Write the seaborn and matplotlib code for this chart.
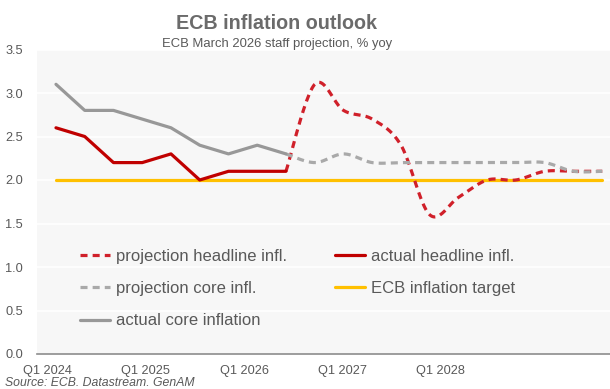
import numpy as np
import pandas as pd
import matplotlib
matplotlib.use("Agg")
import matplotlib.pyplot as plt
import seaborn as sns
from matplotlib.lines import Line2D

# ---------------- data ----------------
quarters = [f"Q{q} {y}" for y in range(2024, 2029) for q in range(1, 5)]
tick_labels = ["Q1 2024", "Q1 2025", "Q1 2026", "Q1 2027", "Q1 2028"]

actual_headline = [2.6, 2.5, 2.2, 2.2, 2.3, 2.0, 2.1, 2.1, 2.1]
actual_core = [3.1, 2.8, 2.8, 2.7, 2.6, 2.4, 2.3, 2.4, 2.3]
proj_start = 8
proj_headline = [2.1, 3.1, 2.8, 2.7, 2.4, 1.6, 1.8, 2.0, 2.0, 2.1, 2.1, 2.1]
proj_core = [2.3, 2.2, 2.3, 2.2, 2.2, 2.2, 2.2, 2.2, 2.2, 2.2, 2.1, 2.1]
target = [2.0] * len(quarters)

# ---------------- style ----------------
sns.set_theme(style="white")
plt.rcParams["font.family"] = ["Liberation Sans", "DejaVu Sans"]

C_RED = "#c00000"
C_RED_D = "#d0202a"
C_GRAY = "#989898"
C_GRAY_D = "#a9a9a9"
C_GOLD = "#ffc000"
C_TXT = "#595959"


def smooth(xs, ys, n=24):
    """Excel-style smoothed line (Bezier through every point)."""
    P = np.column_stack([xs, ys]).astype(float)
    m = len(P)
    out = [P[0]]
    t = np.linspace(0, 1, n)[1:]
    for i in range(m - 1):
        p0 = P[i - 1] if i > 0 else P[i]
        p1, p2 = P[i], P[i + 1]
        p3 = P[i + 2] if i + 2 < m else P[i + 1]
        c1 = p1 + (p2 - p0) / 6.0
        c2 = p2 - (p3 - p1) / 6.0
        for tt in t:
            b = ((1 - tt) ** 3) * p1 + 3 * ((1 - tt) ** 2) * tt * c1 \
                + 3 * (1 - tt) * tt ** 2 * c2 + tt ** 3 * p2
            out.append(b)
    out = np.array(out)
    return out[:, 0], out[:, 1]


fig = plt.figure(figsize=(6.10, 3.89), dpi=100)
fig.patch.set_facecolor("white")
ax = fig.add_axes([37 / 610, 35 / 389, 573 / 610, (354 - 49.5) / 389])
ax.set_facecolor("#f7f7f7")

idx_all = np.arange(len(quarters))
idx_act = np.arange(len(actual_headline))
idx_proj = np.arange(proj_start, proj_start + len(proj_headline))

df_t = pd.DataFrame({"x": idx_all, "y": target})
df_ah = pd.DataFrame({"x": idx_act, "y": actual_headline})
df_ac = pd.DataFrame({"x": idx_act, "y": actual_core})
sx, sy = smooth(idx_proj, proj_headline)
df_ph = pd.DataFrame({"x": sx, "y": sy})
cx, cy = smooth(idx_proj, proj_core)
df_pc = pd.DataFrame({"x": cx, "y": cy})

lw = 2.3
dash = (2.2, 1.6)
sns.lineplot(data=df_t, x="x", y="y", ax=ax, color=C_GOLD, lw=lw, zorder=2)
sns.lineplot(data=df_ph, x="x", y="y", ax=ax, color=C_RED_D, lw=lw, sort=False,
             zorder=3).lines[-1].set_dashes(dash)
sns.lineplot(data=df_pc, x="x", y="y", ax=ax, color=C_GRAY_D, lw=lw, sort=False,
             zorder=4).lines[-1].set_dashes(dash)
sns.lineplot(data=df_ac, x="x", y="y", ax=ax, color=C_GRAY, lw=lw, zorder=5)
sns.lineplot(data=df_ah, x="x", y="y", ax=ax, color=C_RED, lw=lw, zorder=6)

ax.set_xlim(-0.66, 19.27)
ax.set_ylim(0, 3.5)
ax.set_yticks(np.arange(0, 3.51, 0.5))
ax.set_yticklabels([f"{v:.1f}" for v in np.arange(0, 3.51, 0.5)])
ax.set_xticks(-0.28 + 3.41 * np.arange(len(tick_labels)))
ax.set_xticklabels(tick_labels)
ax.set_xlabel("")
ax.set_ylabel("")
ax.tick_params(axis="both", length=0, labelsize=9.2, labelcolor=C_TXT)
ax.tick_params(axis="y", pad=10)
ax.tick_params(axis="x", pad=8)
ax.grid(axis="y", color="white", lw=1.2)
ax.grid(axis="x", visible=False)
for s in ["left", "right", "top"]:
    ax.spines[s].set_visible(False)
ax.spines["bottom"].set_color("#8c8c8c")
ax.spines["bottom"].set_linewidth(1.2)
ax.set_axisbelow(True)

handles = [
    Line2D([], [], color=C_RED_D, lw=lw, dashes=dash),
    Line2D([], [], color=C_GRAY_D, lw=lw, dashes=dash),
    Line2D([], [], color=C_GRAY, lw=lw),
    Line2D([], [], color=C_RED, lw=lw),
    Line2D([], [], color=C_GOLD, lw=lw),
]
labels = ["projection headline infl.", "projection core infl.",
          "actual core inflation", "actual headline infl.",
          "ECB inflation target"]
leg = fig.legend(handles, labels, ncol=2, loc="upper left",
                 bbox_to_anchor=(80 / 610, 1 - 249 / 389),
                 frameon=False, fontsize=12, handlelength=1.8,
                 handletextpad=0.35, columnspacing=2.9, labelspacing=1.03,
                 borderpad=0, borderaxespad=0)
for t in leg.get_texts():
    t.set_color(C_TXT)

fig.text(277 / 610, 1 - 29 / 389, "ECB inflation outlook", ha="center",
         va="baseline", fontsize=14.2, fontweight="bold", color="#6b6b6b")
fig.text(277 / 610, 1 - 47.5 / 389, "ECB March 2026 staff projection, % yoy",
         ha="center", va="baseline", fontsize=9.4, color=C_TXT)
fig.text(5 / 610, 1 - 386.5 / 389, "Source: ECB. Datastream. GenAM",
         ha="left", va="baseline", fontsize=8.8, style="italic", color=C_TXT)

fig.savefig("out.png", dpi=100)
